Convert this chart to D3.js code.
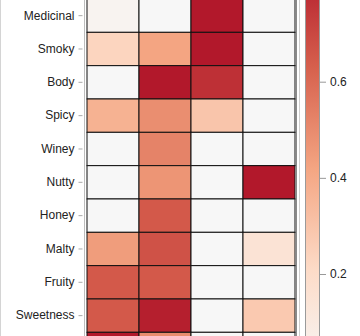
<!DOCTYPE html>
<html>
<head>
<meta charset="utf-8">
<script src="https://cdn.jsdelivr.net/npm/d3@7"></script>
<style>
  html, body { margin: 0; padding: 0; background: #fff; overflow: hidden; }
  svg { display: block; font-family: "Liberation Sans", Arial, sans-serif; }
</style>
</head>
<body>
<svg id="chart" width="360" height="336"></svg>
<script>
// Flavour profile per cluster
const flavours = ["Medicinal", "Smoky", "Body", "Spicy", "Winey", "Nutty", "Honey", "Malty", "Fruity", "Sweetness", "Floral"];
const clusters = ["C1", "C2", "C3", "C4"];
const c1 = [0.03, 0.235, 0.0, 0.37, 0.0, 0.0, 0.0, 0.445, 0.65, 0.65, 0.84];
const c2 = [0.0, 0.42, 0.84, 0.49, 0.525, 0.47, 0.65, 0.67, 0.65, 0.82, 0.5];
const c3 = [0.84, 0.84, 0.77, 0.295, 0.0, 0.0, 0.0, 0.0, 0.0, 0.0, 0.0];
const c4 = [0.0, 0.0, 0.0, 0.0, 0.0, 0.84, 0.0, 0.15, 0.0, 0.28, 0.0];
const colourTicks = [0.2, 0.4, 0.6];

const W = 360, H = 336;
const series = [c1, c2, c3, c4];
const cells = [];
flavours.forEach((f, i) => clusters.forEach((c, j) => cells.push({ flavour: f, cluster: c, value: series[j][i] })));

const svg = d3.select("#chart");

const x = d3.scaleBand().domain(clusters).range([87, 295]);
const y = d3.scaleBand().domain(flavours).range([-1, -1 + 33.33 * flavours.length]);

const colour = d3.scaleLinear()
  .domain([0, 0.21, 0.42, 0.63, 0.84])
  .range(["#f7f7f7", "#fddbc7", "#f4a582", "#d6604d", "#b2182b"])
  .interpolate(d3.interpolateRgb);

// outer frame line on the far left
svg.append("line").attr("x1", 0.5).attr("x2", 0.5).attr("y1", 0).attr("y2", H)
  .attr("stroke", "#d4d4d4");

// heatmap cells
svg.append("g").selectAll("rect").data(cells).join("rect")
  .attr("x", d => x(d.cluster))
  .attr("y", d => y(d.flavour))
  .attr("width", x.bandwidth())
  .attr("height", y.bandwidth())
  .attr("fill", d => colour(d.value))
  .attr("stroke", "#111")
  .attr("stroke-width", 1);

// right border of the plot
svg.append("line").attr("x1", 296.5).attr("x2", 296.5).attr("y1", 0).attr("y2", H)
  .attr("stroke", "#8a8a8a");
svg.append("line").attr("x1", 299.5).attr("x2", 299.5).attr("y1", 0).attr("y2", H)
  .attr("stroke", "#cfcfcf");

// y axis (only rows whose centre falls inside the view get a tick)
const visibleRows = flavours.filter(f => y(f) + y.bandwidth() / 2 < H);
const yAxis = svg.append("g").attr("transform", "translate(84.5,0)")
  .call(d3.axisLeft(y).tickValues(visibleRows).tickSize(6).tickPadding(4));
yAxis.select(".domain").attr("stroke", "#bdbdbd").attr("d", "M0,0V" + H);
yAxis.selectAll(".tick line").attr("stroke", "#aaa").attr("x1", -2).attr("x2", -6);
yAxis.selectAll(".tick text").attr("fill", "#222").style("font-size", "12px")
  .attr("x", -10).attr("font-family", "'Liberation Sans', Arial, sans-serif");

// colour bar
const cb = d3.scaleLinear().domain([0.2, 0.6]).range([274, 81.7]);
const grad = svg.append("defs").append("linearGradient").attr("id", "cbar")
  .attr("gradientUnits", "userSpaceOnUse")
  .attr("x1", 0).attr("x2", 0).attr("y1", cb(0)).attr("y2", cb(0.84));
colour.domain().forEach(v => grad.append("stop")
  .attr("offset", v / 0.84).attr("stop-color", colour(v)));

svg.append("rect")
  .attr("x", 305.5).attr("width", 14)
  .attr("y", cb(0.84)).attr("height", cb(0) - cb(0.84))
  .attr("fill", "url(#cbar)").attr("stroke", "#9a9a9a");

const cAxis = svg.append("g").attr("transform", "translate(320,0)")
  .call(d3.axisRight(cb).tickValues(colourTicks).tickFormat(d3.format(".1f")).tickSize(6).tickPadding(4));
cAxis.select(".domain").remove();
cAxis.selectAll(".tick line").attr("stroke", "#999");
cAxis.selectAll(".tick text").attr("fill", "#222").style("font-size", "12px")
  .attr("font-family", "'Liberation Sans', Arial, sans-serif");
</script>
</body>
</html>
